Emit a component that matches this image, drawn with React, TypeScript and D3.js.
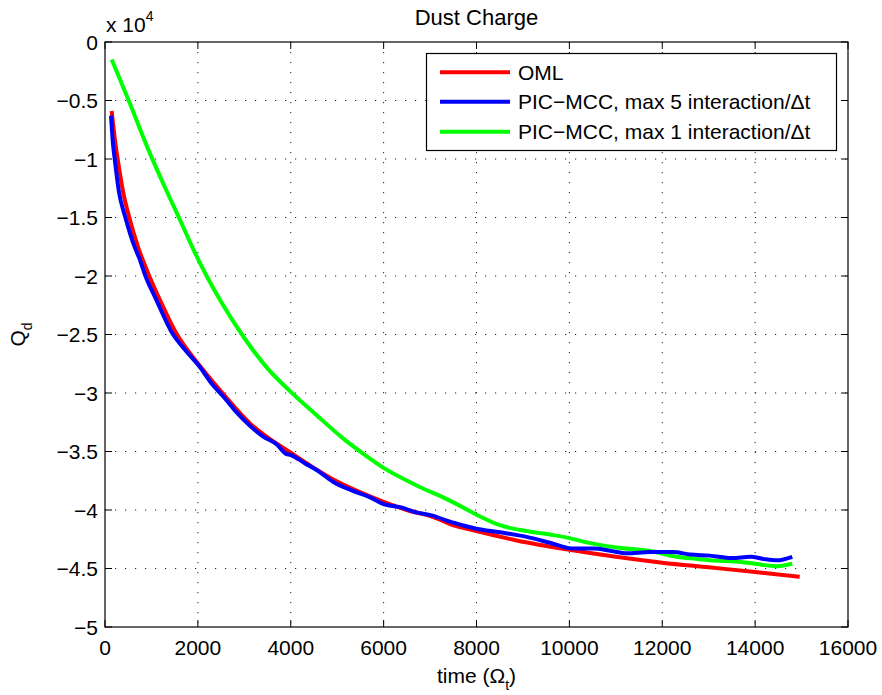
import React from "react";
import * as d3 from "d3";

const xTicks = [0, 2000, 4000, 6000, 8000, 10000, 12000, 14000, 16000];
const yTicks = [0, -0.5, -1, -1.5, -2, -2.5, -3, -3.5, -4, -4.5, -5];
const yTickLabels = ["0", "−0.5", "−1", "−1.5", "−2", "−2.5", "−3", "−3.5", "−4", "−4.5", "−5"];

const omlT = [144, 215, 300, 400, 503, 718, 933, 1200, 1507, 2046, 2548, 3122, 3500, 4000, 4500, 4917, 5500, 6000, 6500, 7070, 7429, 8000, 8865, 10000, 11000, 12000, 13000, 14000, 14960];
const omlQ = [-0.59, -0.84, -1.07, -1.3, -1.47, -1.76, -1.98, -2.22, -2.47, -2.77, -3.01, -3.26, -3.38, -3.51, -3.64, -3.74, -3.85, -3.93, -4.0, -4.06, -4.12, -4.18, -4.26, -4.34, -4.4, -4.45, -4.49, -4.53, -4.57];

const pic5T = [130, 165, 215, 300, 431, 550, 646, 750, 861, 1100, 1436, 1700, 2046, 2300, 2548, 2800, 3122, 3400, 3700, 3900, 4000, 4300, 4600, 4917, 5300, 5700, 6000, 6400, 6700, 7070, 7429, 7700, 8000, 8505, 9080, 9582, 10084, 10515, 10900, 11233, 11735, 12237, 12600, 13027, 13500, 13900, 14200, 14470, 14800];
const pic5Q = [-0.63, -0.84, -1.02, -1.28, -1.49, -1.65, -1.76, -1.86, -1.99, -2.2, -2.48, -2.62, -2.78, -2.92, -3.03, -3.15, -3.28, -3.37, -3.44, -3.52, -3.53, -3.6, -3.67, -3.76, -3.83, -3.89, -3.95, -3.98, -4.02, -4.05, -4.1, -4.13, -4.16, -4.19, -4.23, -4.28, -4.33, -4.33, -4.35, -4.37, -4.36, -4.36, -4.38, -4.39, -4.41, -4.4, -4.42, -4.43, -4.4];

const pic1T = [144, 500, 933, 1300, 1615, 1900, 2189, 2500, 3000, 3500, 4000, 4558, 5132, 5600, 6000, 6712, 7429, 8000, 8505, 9080, 9582, 10000, 10300, 11018, 11735, 12310, 12810, 13027, 13600, 14000, 14470, 14800];
const pic1Q = [-0.15, -0.49, -0.92, -1.25, -1.52, -1.77, -2.0, -2.22, -2.53, -2.79, -2.99, -3.19, -3.39, -3.53, -3.64, -3.79, -3.92, -4.04, -4.13, -4.18, -4.21, -4.24, -4.27, -4.32, -4.35, -4.4, -4.42, -4.43, -4.44, -4.46, -4.48, -4.46];

const seriesNames = ["OML", "PIC−MCC, max 5 interaction/Δt", "PIC−MCC, max 1 interaction/Δt"];
const seriesColors = ["#ff0000", "#0000ff", "#00ff00"];

const W = 882;
const H = 695;
const L = 105, R = 848, T = 42, B = 627;
const FONT = "'Liberation Sans', Arial, Helvetica, sans-serif";

export default function App() {
  const x = d3.scaleLinear().domain([0, 16000]).range([L, R]);
  const y = d3.scaleLinear().domain([-5, 0]).range([B, T]);
  const line = d3
    .line<[number, number]>()
    .x((d) => x(d[0]))
    .y((d) => y(d[1]))
    .curve(d3.curveMonotoneX);

  const series = [
    { t: omlT, q: omlQ },
    { t: pic5T, q: pic5Q },
    { t: pic1T, q: pic1Q },
  ];
  const drawOrder = [0, 2, 1];

  const legendRows = [72.3, 101.7, 131.7];

  return (
    <svg
      width={W}
      height={H}
      style={{ position: "absolute", left: 0, top: 0, background: "#fff" }}
      fontFamily={FONT}
    >
      <rect x={0} y={0} width={W} height={H} fill="#fff" />
      {/* grid */}
      {xTicks.slice(1, -1).map((t) => (
        <line key={"gx" + t} x1={x(t)} x2={x(t)} y1={T} y2={B} stroke="#222" strokeWidth={1} strokeDasharray="1.2 8.8" />
      ))}
      {yTicks.slice(1, -1).map((v) => (
        <line key={"gy" + v} x1={L} x2={R} y1={y(v)} y2={y(v)} stroke="#222" strokeWidth={1} strokeDasharray="1.2 8.8" />
      ))}
      {/* series */}
      {drawOrder.map((i) => (
        <path
          key={"s" + i}
          d={line(series[i].t.map((t, j) => [t, series[i].q[j]]) as [number, number][]) || ""}
          fill="none"
          stroke={seriesColors[i]}
          strokeWidth={4}
          strokeLinejoin="round"
        />
      ))}
      {/* axes box */}
      <rect x={L} y={T} width={R - L} height={B - T} fill="none" stroke="#000" strokeWidth={1.2} />
      {xTicks.map((t) => (
        <g key={"xt" + t}>
          <line x1={x(t)} x2={x(t)} y1={B} y2={B - 7} stroke="#000" strokeWidth={1} />
          <line x1={x(t)} x2={x(t)} y1={T} y2={T + 7} stroke="#000" strokeWidth={1} />
          <text x={x(t)} y={655} textAnchor="middle" fontSize={21} fill="#000">
            {t}
          </text>
        </g>
      ))}
      {yTicks.map((v, i) => (
        <g key={"yt" + v}>
          <line x1={L} x2={L + 7} y1={y(v)} y2={y(v)} stroke="#000" strokeWidth={1} />
          <line x1={R} x2={R - 7} y1={y(v)} y2={y(v)} stroke="#000" strokeWidth={1} />
          <text x={98} y={y(v) + 7.5} textAnchor="end" fontSize={21} fill="#000">
            {yTickLabels[i]}
          </text>
        </g>
      ))}
      {/* exponent */}
      <text x={106} y={32} fontSize={21} fill="#000">
        x 10
        <tspan dy={-11} fontSize={14}>4</tspan>
      </text>
      {/* title */}
      <text x={(L + R) / 2} y={25} textAnchor="middle" fontSize={22} fill="#000">
        Dust Charge
      </text>
      {/* x label */}
      <text x={(L + R) / 2} y={683} textAnchor="middle" fontSize={21} fill="#000">
        time (Ω<tspan dy={7} fontSize={14}>t</tspan>
        <tspan dy={-7}>)</tspan>
      </text>
      {/* y label */}
      <text transform={`translate(25,${(T + B) / 2}) rotate(-90)`} textAnchor="middle" fontSize={21} fill="#000">
        Q<tspan dy={7} fontSize={14}>d</tspan>
      </text>
      {/* legend */}
      <rect x={426.5} y={53.5} width={410} height={97} fill="#fff" stroke="#000" strokeWidth={1.2} />
      {seriesNames.map((n, i) => (
        <g key={"lg" + i}>
          <line x1={440} x2={510} y1={legendRows[i]} y2={legendRows[i]} stroke={seriesColors[i]} strokeWidth={4} />
          <text x={518} y={legendRows[i] + 7.5} fontSize={21} fill="#000">
            {n}
          </text>
        </g>
      ))}
    </svg>
  );
}
